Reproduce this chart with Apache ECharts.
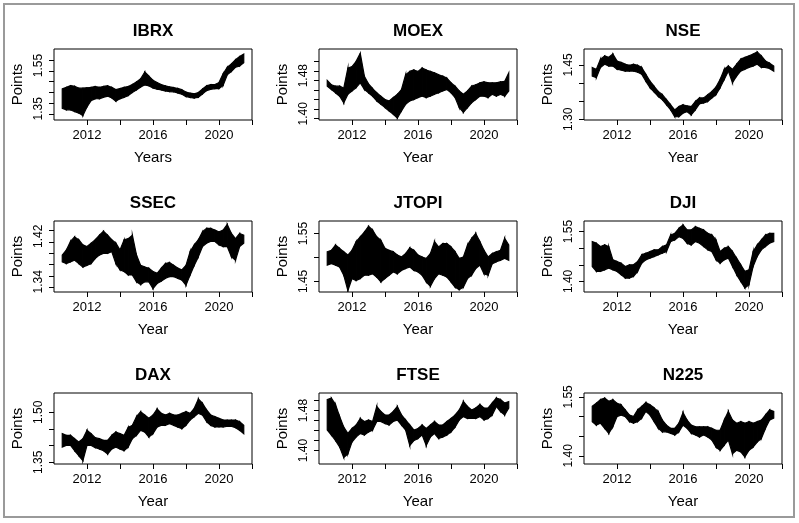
<!DOCTYPE html>
<html><head><meta charset="utf-8">
<script src="https://cdn.jsdelivr.net/npm/echarts@6/dist/echarts.min.js"></script>
<style>html,body{margin:0;padding:0;background:#fff}#c{width:799px;height:523px}</style>
</head><body><div id="c"></div>
<script>
// ---- data (lower / upper edge of each black band) ----
const years = [2010.5,2010.75,2011,2011.25,2011.5,2011.75,2012,2012.25,2012.5,2012.75,2013,2013.25,2013.5,2013.75,2014,2014.25,2014.5,2014.75,2015,2015.25,2015.5,2015.75,2016,2016.25,2016.5,2016.75,2017,2017.25,2017.5,2017.75,2018,2018.25,2018.5,2018.75,2019,2019.25,2019.5,2019.75,2020,2020.25,2020.5,2020.75,2021,2021.25,2021.5];
const xTicks = [2012,2014,2016,2018,2020,2022];
const xLabels = [2012,2016,2020];

const ibrxHigh = [1.442,1.449,1.457,1.454,1.445,1.445,1.447,1.449,1.453,1.449,1.453,1.456,1.449,1.438,1.443,1.449,1.453,1.462,1.474,1.489,1.520,1.501,1.482,1.471,1.462,1.456,1.451,1.448,1.444,1.438,1.427,1.422,1.419,1.425,1.441,1.456,1.462,1.462,1.471,1.512,1.542,1.557,1.577,1.592,1.603];
const ibrxLow  = [1.352,1.345,1.345,1.337,1.330,1.318,1.358,1.388,1.396,1.396,1.403,1.408,1.400,1.385,1.396,1.403,1.411,1.425,1.437,1.450,1.460,1.456,1.446,1.440,1.437,1.432,1.429,1.428,1.423,1.417,1.406,1.402,1.399,1.403,1.418,1.434,1.440,1.443,1.443,1.458,1.507,1.522,1.542,1.548,1.563];
const ibrxTicks = [1.325,1.375,1.425,1.475,1.525,1.575];
const ibrxLabels = [1.35,1.55];

const moexHigh = [1.470,1.461,1.458,1.458,1.454,1.496,1.499,1.510,1.527,1.479,1.463,1.453,1.444,1.437,1.430,1.427,1.434,1.441,1.451,1.482,1.489,1.492,1.489,1.496,1.492,1.489,1.486,1.482,1.479,1.475,1.465,1.458,1.448,1.441,1.448,1.458,1.461,1.465,1.467,1.465,1.465,1.465,1.467,1.468,1.486];
const moexLow  = [1.458,1.451,1.444,1.437,1.423,1.441,1.448,1.455,1.465,1.451,1.444,1.437,1.427,1.420,1.413,1.406,1.399,1.391,1.406,1.420,1.427,1.430,1.434,1.437,1.434,1.437,1.441,1.444,1.448,1.451,1.444,1.434,1.413,1.403,1.413,1.423,1.430,1.437,1.437,1.434,1.441,1.437,1.441,1.437,1.448];
const moexTicks = [1.39,1.41,1.43,1.45,1.47,1.49,1.51];
const moexLabels = [1.40,1.48];

const nseHigh = [1.443,1.438,1.466,1.475,1.471,1.480,1.461,1.457,1.452,1.449,1.452,1.449,1.443,1.424,1.405,1.391,1.377,1.368,1.354,1.340,1.326,1.335,1.340,1.337,1.335,1.349,1.359,1.359,1.368,1.377,1.389,1.410,1.438,1.447,1.438,1.452,1.466,1.471,1.475,1.480,1.486,1.475,1.461,1.455,1.447];
const nseLow  = [1.419,1.415,1.443,1.452,1.447,1.447,1.438,1.436,1.433,1.433,1.433,1.430,1.424,1.405,1.387,1.375,1.363,1.354,1.340,1.326,1.307,1.307,1.317,1.321,1.312,1.326,1.343,1.345,1.349,1.359,1.368,1.387,1.410,1.433,1.401,1.419,1.433,1.438,1.443,1.447,1.452,1.443,1.443,1.440,1.433];
const nseTicks = [1.30,1.35,1.40,1.45];
const nseLabels = [1.30,1.45];

const ssecHigh = [1.387,1.396,1.411,1.419,1.414,1.405,1.402,1.408,1.414,1.422,1.429,1.422,1.414,1.408,1.396,1.414,1.416,1.422,1.387,1.369,1.366,1.364,1.358,1.355,1.364,1.372,1.374,1.369,1.364,1.361,1.369,1.393,1.405,1.414,1.428,1.434,1.434,1.431,1.428,1.431,1.441,1.425,1.416,1.425,1.422];
const ssecLow  = [1.375,1.372,1.375,1.378,1.372,1.366,1.369,1.372,1.381,1.387,1.390,1.390,1.393,1.372,1.361,1.358,1.352,1.352,1.340,1.335,1.340,1.340,1.328,1.337,1.341,1.346,1.349,1.349,1.346,1.343,1.334,1.352,1.369,1.384,1.402,1.408,1.411,1.411,1.405,1.402,1.402,1.384,1.378,1.402,1.408];
const ssecTicks = [1.33,1.35,1.37,1.39,1.41,1.43];
const ssecLabels = [1.34,1.42];

const jtopiHigh = [1.512,1.515,1.526,1.519,1.512,1.505,1.515,1.533,1.543,1.553,1.565,1.557,1.543,1.536,1.519,1.515,1.512,1.505,1.501,1.508,1.520,1.515,1.505,1.501,1.498,1.508,1.533,1.522,1.529,1.529,1.522,1.512,1.498,1.501,1.526,1.540,1.550,1.533,1.515,1.501,1.508,1.512,1.515,1.540,1.526];
const jtopiLow  = [1.484,1.487,1.484,1.480,1.463,1.431,1.456,1.452,1.456,1.463,1.463,1.466,1.459,1.449,1.456,1.463,1.470,1.466,1.473,1.477,1.480,1.473,1.470,1.463,1.449,1.440,1.456,1.466,1.463,1.459,1.449,1.438,1.433,1.438,1.456,1.463,1.477,1.484,1.466,1.463,1.487,1.491,1.494,1.498,1.494];
const jtopiTicks = [1.45,1.50,1.55];
const jtopiLabels = [1.45,1.55];

const djiHigh = [1.520,1.515,1.505,1.510,1.505,1.465,1.460,1.455,1.445,1.450,1.450,1.460,1.480,1.485,1.490,1.495,1.495,1.505,1.510,1.540,1.545,1.560,1.570,1.555,1.555,1.565,1.560,1.555,1.545,1.540,1.525,1.490,1.500,1.505,1.490,1.470,1.450,1.430,1.435,1.490,1.510,1.525,1.540,1.545,1.545];
const djiLow  = [1.445,1.430,1.430,1.435,1.440,1.435,1.430,1.420,1.410,1.410,1.415,1.430,1.455,1.465,1.470,1.475,1.480,1.485,1.490,1.520,1.525,1.535,1.530,1.515,1.510,1.520,1.515,1.505,1.495,1.490,1.465,1.455,1.465,1.470,1.445,1.420,1.400,1.380,1.390,1.445,1.475,1.495,1.505,1.515,1.520];
const djiTicks = [1.40,1.45,1.50,1.55];
const djiLabels = [1.40,1.55];

const daxHigh = [1.436,1.431,1.431,1.421,1.411,1.421,1.446,1.436,1.424,1.421,1.416,1.416,1.431,1.441,1.436,1.431,1.455,1.461,1.487,1.502,1.492,1.482,1.492,1.510,1.497,1.492,1.497,1.492,1.492,1.497,1.502,1.497,1.512,1.540,1.527,1.507,1.492,1.487,1.482,1.477,1.477,1.477,1.477,1.472,1.461];
const daxLow  = [1.396,1.401,1.401,1.385,1.370,1.355,1.401,1.401,1.394,1.390,1.385,1.375,1.390,1.396,1.390,1.385,1.396,1.421,1.431,1.446,1.441,1.426,1.436,1.456,1.461,1.461,1.466,1.461,1.456,1.451,1.461,1.477,1.487,1.497,1.492,1.472,1.461,1.456,1.456,1.456,1.458,1.458,1.454,1.446,1.436];
const daxTicks = [1.35,1.40,1.45,1.50];
const daxLabels = [1.35,1.50];

const ftseHigh = [1.502,1.505,1.492,1.468,1.447,1.434,1.444,1.451,1.464,1.458,1.461,1.458,1.488,1.478,1.471,1.471,1.478,1.488,1.471,1.461,1.451,1.441,1.444,1.451,1.444,1.451,1.458,1.451,1.451,1.458,1.464,1.471,1.481,1.498,1.488,1.481,1.485,1.492,1.485,1.485,1.495,1.505,1.502,1.495,1.498];
const ftseLow  = [1.441,1.431,1.420,1.407,1.386,1.393,1.417,1.427,1.434,1.431,1.437,1.441,1.458,1.458,1.454,1.451,1.458,1.461,1.451,1.441,1.410,1.420,1.424,1.431,1.410,1.427,1.434,1.424,1.427,1.431,1.437,1.447,1.461,1.468,1.464,1.464,1.464,1.468,1.461,1.464,1.471,1.488,1.478,1.471,1.485];
const ftseTicks = [1.40,1.42,1.44,1.46,1.48,1.50];
const ftseLabels = [1.40,1.48];

const n225High = [1.526,1.534,1.543,1.547,1.539,1.543,1.534,1.530,1.517,1.504,1.500,1.517,1.526,1.536,1.530,1.522,1.513,1.491,1.478,1.470,1.470,1.483,1.510,1.491,1.478,1.474,1.474,1.474,1.474,1.470,1.465,1.465,1.491,1.513,1.491,1.483,1.487,1.483,1.487,1.483,1.487,1.491,1.504,1.517,1.513];
const n225Low  = [1.487,1.478,1.483,1.470,1.457,1.474,1.500,1.504,1.500,1.487,1.483,1.487,1.496,1.513,1.504,1.487,1.470,1.461,1.461,1.457,1.453,1.461,1.478,1.470,1.457,1.453,1.448,1.453,1.448,1.440,1.422,1.414,1.427,1.440,1.405,1.414,1.410,1.397,1.414,1.422,1.435,1.444,1.470,1.491,1.496];
const n225Ticks = [1.40,1.45,1.50,1.55];
const n225Labels = [1.40,1.55];

// ---- chart ----
const panels = [
  {name:'IBRX',  xName:'Years', low:ibrxLow,  high:ibrxHigh,  ticks:ibrxTicks,  labels:ibrxLabels,  yMin:1.2977, yMax:1.6265},
  {name:'MOEX',  xName:'Year',  low:moexLow,  high:moexHigh,  ticks:moexTicks,  labels:moexLabels,  yMin:1.387,  yMax:1.536},
  {name:'NSE',   xName:'Year',  low:nseLow,   high:nseHigh,   ticks:nseTicks,   labels:nseLabels,   yMin:1.298,  yMax:1.494},
  {name:'SSEC',  xName:'Year',  low:ssecLow,  high:ssecHigh,  ticks:ssecTicks,  labels:ssecLabels,  yMin:1.322,  yMax:1.447},
  {name:'JTOPI', xName:'Year',  low:jtopiLow, high:jtopiHigh, ticks:jtopiTicks, labels:jtopiLabels, yMin:1.428,  yMax:1.576},
  {name:'DJI',   xName:'Year',  low:djiLow,   high:djiHigh,   ticks:djiTicks,   labels:djiLabels,   yMin:1.368,  yMax:1.582},
  {name:'DAX',   xName:'Year',  low:daxLow,   high:daxHigh,   ticks:daxTicks,   labels:daxLabels,   yMin:1.345,  yMax:1.558},
  {name:'FTSE',  xName:'Year',  low:ftseLow,  high:ftseHigh,  ticks:ftseTicks,  labels:ftseLabels,  yMin:1.373,  yMax:1.515},
  {name:'N225',  xName:'Year',  low:n225Low,  high:n225High,  ticks:n225Ticks,  labels:n225Labels,  yMin:1.379,  yMax:1.560}
];

const FONT = '"Liberation Sans", Arial, sans-serif';
const colLeft = [54, 319, 584];
const rowTop = [49, 221, 393];
const W = 198, H = 71;

const grids = [], xAxes = [], yAxes = [], series = [], titles = [];
panels.forEach((p, i) => {
  const c = i % 3, r = Math.floor(i / 3);
  grids.push({left: colLeft[c], top: rowTop[r], width: W, height: H, show: true,
    borderColor: '#000', borderWidth: 1, backgroundColor: 'transparent', containLabel: false});
  titles.push({text: p.name, left: colLeft[c] + W / 2, top: rowTop[r] - 26, textAlign: 'center', padding: 0,
    textStyle: {fontSize: 17, fontWeight: 'bold', color: '#000', fontFamily: FONT}});
  xAxes.push({type: 'value', gridIndex: i, min: 2010, max: 2022,
    axisLine: {show: false},
    axisTick: {show: true, length: 5, lineStyle: {color: '#000', width: 1}, customValues: xTicks},
    axisLabel: {customValues: xLabels, color: '#000', fontSize: 13, fontFamily: FONT, margin: 9,
      formatter: v => String(Math.round(v))},
    splitLine: {show: false},
    name: p.xName, nameLocation: 'middle', nameGap: 30,
    nameTextStyle: {color: '#000', fontSize: 15, fontFamily: FONT}});
  yAxes.push({type: 'value', gridIndex: i, min: p.yMin, max: p.yMax,
    axisLine: {show: false},
    axisTick: {show: true, length: 5, lineStyle: {color: '#000', width: 1}, customValues: p.ticks},
    axisLabel: {customValues: p.labels, rotate: 90, color: '#000', fontSize: 12, fontFamily: FONT, margin: 9,
      formatter: v => Number(v).toFixed(2)},
    splitLine: {show: false},
    name: 'Points', nameLocation: 'middle', nameRotate: 90, nameGap: 29,
    nameTextStyle: {color: '#000', fontSize: 15, fontFamily: FONT}});
  const low = p.low, high = p.high;
  series.push({type: 'custom', xAxisIndex: i, yAxisIndex: i, silent: true, clip: true,
    data: years.map((y, k) => [y, low[k], high[k]]),
    encode: {x: 0, y: [1, 2]},
    renderItem: function (params, api) {
      const k = params.dataIndex;
      if (k >= years.length - 1) return null;
      const a = api.coord([years[k], high[k]]);
      const b = api.coord([years[k + 1], high[k + 1]]);
      const cc = api.coord([years[k + 1], low[k + 1]]);
      const d = api.coord([years[k], low[k]]);
      return {type: 'polygon', shape: {points: [a, b, cc, d]},
        style: {fill: '#000', stroke: '#000', lineWidth: 1.2}};
    }});
});

const chart = echarts.init(document.getElementById('c'), null, {renderer: 'canvas'});
chart.setOption({
  backgroundColor: '#fff',
  animation: false,
  title: titles,
  grid: grids,
  xAxis: xAxes,
  yAxis: yAxes,
  series: series,
  graphic: [{type: 'rect', silent: true, shape: {x: 4, y: 4, width: 790, height: 513},
    style: {fill: 'none', stroke: '#9a9a9a', lineWidth: 2}}]
});
</script></body></html>
